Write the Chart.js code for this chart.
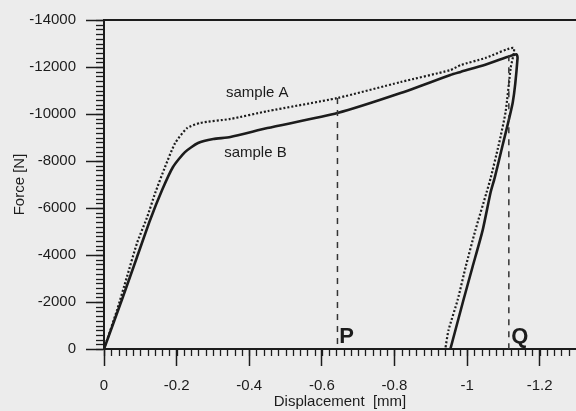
<!DOCTYPE html>
<html>
<head>
<meta charset="utf-8">
<title>Force vs Displacement</title>
<script src="https://cdn.jsdelivr.net/npm/chart.js@4.4.1/dist/chart.umd.min.js"></script>
<style>
    html, body { margin: 0; padding: 0; background: #ececec; }
    #wrap { width: 576px; height: 411px; }
</style>
</head>
<body>
<div id="wrap"><canvas id="chart" width="576" height="411"></canvas></div>
<script>
// Tick labels
const xTicks = [0, -0.2, -0.4, -0.6, -0.8, -1, -1.2];
const yTicks = [0, -2000, -4000, -6000, -8000, -10000, -12000, -14000];

// Sample A (dotted): loading, then unloading
const sampleAX = [0, -0.036, -0.063, -0.091, -0.119, -0.141, -0.168, -0.196, -0.229, -0.265, -0.348, -0.45, -0.643, -0.817, -0.954, -0.982, -1.05, -1.128,
    -1.120, -1.106, -1.087, -1.065, -1.054, -1.023, -0.996, -0.974, -0.949, -0.940];
const sampleAY = [0, -1660, -3060, -4510, -5620, -6640, -7740, -8765, -9400, -9620, -9790, -10120, -10680, -11360, -11870, -12080, -12380, -12810,
    -11960, -10080, -8680, -7280, -6680, -5060, -3490, -2085, -810, 0];

// Sample B (solid)
const sampleBX = [0, -0.052, -0.091, -0.127, -0.160, -0.190, -0.223, -0.259, -0.301, -0.348, -0.45, -0.643, -0.817, -0.954, -0.982, -1.05, -1.136,
    -1.139, -1.126, -1.098, -1.076, -1.065, -1.043, -1.015, -0.990, -0.968, -0.954];
const sampleBY = [0, -2210, -3915, -5490, -6765, -7745, -8380, -8765, -8935, -9020, -9400, -10040, -10890, -11660, -11790, -12100, -12540,
    -12380, -10510, -8680, -7280, -6680, -5060, -3490, -2085, -810, 0];

// Vertical marker lines P and Q
const markerP = { x: -0.643, top: -10680 };
const markerQ = { x: -1.115, top: -12500 };

const ink = '#1c1c1c';
const fontFamily = '"Liberation Sans", Arial, sans-serif';

function toPoints(xs, ys) {
    return xs.map((x, i) => ({ x: x, y: ys[i] }));
}

// Text labels placed in data coordinates
const labels = [
    { text: 'sample A', x: -0.422, y: -10890, font: '15px ' + fontFamily },
    { text: 'sample B', x: -0.417, y: -8340, font: '15px ' + fontFamily },
    { text: 'P', x: -0.668, y: -510, font: 'bold 22px ' + fontFamily },
    { text: 'Q', x: -1.145, y: -510, font: 'bold 22px ' + fontFamily }
];

// Minor ticks, top frame and text labels
const decorPlugin = {
    id: 'decor',
    afterDraw(chart) {
        const ctx = chart.ctx;
        const xs = chart.scales.x;
        const ys = chart.scales.y;
        const area = chart.chartArea;
        ctx.save();
        ctx.strokeStyle = ink;
        ctx.lineWidth = 1.3;

        // x minor ticks every 0.02
        for (let i = 0; i <= 65; i++) {
            const px = Math.round(xs.getPixelForValue(-i * 0.02)) + 0.5;
            if (px > area.right) break;
            ctx.beginPath();
            ctx.moveTo(px, area.bottom);
            ctx.lineTo(px, area.bottom + 7);
            ctx.stroke();
        }
        // y minor ticks every 200
        for (let i = 0; i <= 70; i++) {
            const py = Math.round(ys.getPixelForValue(-i * 200)) + 0.5;
            ctx.beginPath();
            ctx.moveTo(area.left, py);
            ctx.lineTo(area.left - 8, py);
            ctx.stroke();
        }

        // top frame
        ctx.lineWidth = 2;
        ctx.beginPath();
        ctx.moveTo(area.left, area.top);
        ctx.lineTo(area.right, area.top);
        ctx.stroke();

        // labels
        ctx.fillStyle = ink;
        ctx.textAlign = 'center';
        ctx.textBaseline = 'middle';
        labels.forEach(l => {
            ctx.font = l.font;
            ctx.fillText(l.text, xs.getPixelForValue(l.x), ys.getPixelForValue(l.y));
        });
        ctx.restore();
    }
};

new Chart(document.getElementById('chart'), {
    type: 'scatter',
    data: {
        datasets: [
            {
                label: 'P',
                data: [{ x: markerP.x, y: markerP.top }, { x: markerP.x, y: 0 }],
                showLine: true,
                borderColor: '#333',
                borderWidth: 1.5,
                borderDash: [6, 6],
                pointRadius: 0
            },
            {
                label: 'Q',
                data: [{ x: markerQ.x, y: markerQ.top }, { x: markerQ.x, y: 0 }],
                showLine: true,
                borderColor: '#333',
                borderWidth: 1.5,
                borderDash: [6, 6],
                pointRadius: 0
            },
            {
                label: 'sample A',
                data: toPoints(sampleAX, sampleAY),
                showLine: true,
                borderColor: ink,
                borderWidth: 2.2,
                borderDash: [2, 2],
                pointRadius: 0,
                tension: 0.2
            },
            {
                label: 'sample B',
                data: toPoints(sampleBX, sampleBY),
                showLine: true,
                borderColor: ink,
                borderWidth: 2.6,
                pointRadius: 0,
                tension: 0.2
            }
        ]
    },
    options: {
        responsive: false,
        animation: false,
        layout: { padding: { top: 20, right: 0, bottom: 0, left: 0 } },
        plugins: {
            legend: { display: false },
            tooltip: { enabled: false }
        },
        scales: {
            x: {
                type: 'linear',
                min: -1.3,
                max: 0,
                reverse: true,
                afterBuildTicks: s => { s.ticks = xTicks.map(v => ({ value: v })); },
                afterFit: s => { s.height = 62; },
                ticks: {
                    color: ink,
                    padding: 11,
                    font: { family: fontFamily, size: 15 },
                    callback: v => String(v)
                },
                grid: {
                    drawOnChartArea: false,
                    drawTicks: true,
                    tickLength: 17,
                    tickWidth: 1.5,
                    tickColor: ink
                },
                border: { display: true, color: ink, width: 2 },
                title: {
                    display: true,
                    text: 'Displacement  [mm]',
                    color: ink,
                    font: { family: fontFamily, size: 15 },
                    padding: { top: 0, bottom: 0 }
                }
            },
            y: {
                type: 'linear',
                min: -14000,
                max: 0,
                reverse: true,
                afterBuildTicks: s => { s.ticks = yTicks.map(v => ({ value: v })); },
                afterFit: s => { s.width = 104; },
                ticks: {
                    color: ink,
                    padding: 10,
                    font: { family: fontFamily, size: 15 },
                    callback: v => String(v)
                },
                grid: {
                    drawOnChartArea: false,
                    drawTicks: true,
                    tickLength: 18,
                    tickWidth: 1.5,
                    tickColor: ink
                },
                border: { display: true, color: ink, width: 2 },
                title: {
                    display: true,
                    text: 'Force [N]',
                    color: ink,
                    font: { family: fontFamily, size: 15 },
                    padding: { top: 11, bottom: 0 }
                }
            }
        }
    },
    plugins: [decorPlugin]
});
</script>
</body>
</html>
